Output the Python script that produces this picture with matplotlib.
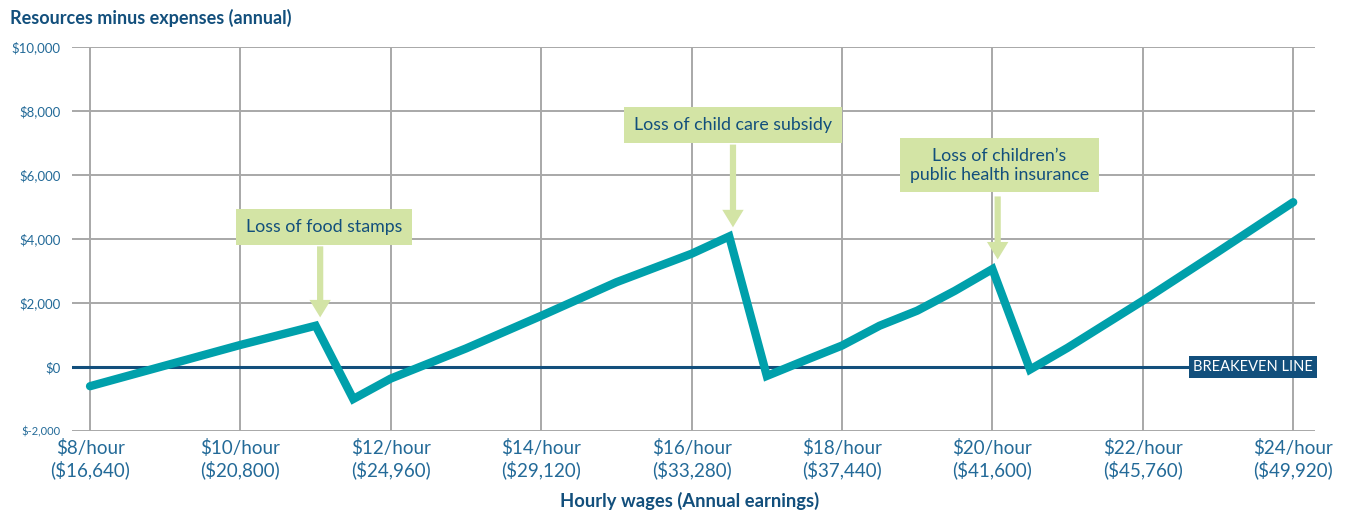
import matplotlib
matplotlib.use("Agg")
import matplotlib.pyplot as plt
import matplotlib.transforms as mtransforms

plt.rcParams['font.family'] = ['Lato', 'DejaVu Sans']

# ---- data ----
wage = [8, 9, 10, 11, 11.5, 12, 13, 14, 15, 16, 16.5, 17, 17.5, 18, 18.5, 19, 19.5, 20, 20.5, 21, 22, 23, 24]
net = [-600, 45, 690, 1290, -1000, -360, 580, 1600, 2650, 3540, 4080, -280, 200, 670, 1290,
       1760, 2380, 3060, -80, 600, 2070, 3600, 5150]

xticks = [8, 10, 12, 14, 16, 18, 20, 22, 24]
xticklabels = ["$8/hour\n($16,640)", "$10/hour\n($20,800)", "$12/hour\n($24,960)",
               "$14/hour\n($29,120)", "$16/hour\n($33,280)", "$18/hour\n($37,440)",
               "$20/hour\n($41,600)", "$22/hour\n($45,760)", "$24/hour\n($49,920)"]
yticks = [-2000, 0, 2000, 4000, 6000, 8000, 10000]
yticklabels = ["$-2,000", "$0", "$2,000", "$4,000", "$6,000", "$8,000", "$10,000"]

annotations = [
    # text, box center (x, y), arrow start y, arrow tip (x, y)
    ("Loss of food stamps", (11.11, 4380), 3770, (11.06, 1550)),
    ("Loss of child care subsidy", (16.55, 7570), 6950, (16.55, 4365)),
    ("Loss of children\u2019s\npublic health insurance", (20.09, 6300), 5330, (20.07, 3360)),
]

# ---- styles ----
TEAL = "#00a0ab"
NAVY = "#124f7c"
TICKC = "#236a98"
GRID = "#a8a8a8"
BOXC = "#d3e4a5"

fig = plt.figure(figsize=(13.51, 5.12), dpi=100)
ax = fig.add_axes([72 / 1351, 1 - 431 / 512, (1315 - 72) / 1351, (431 - 47) / 512])
ax.set_xlim(7.76, 24.29)
ax.set_ylim(-2000, 10000)

for s in ax.spines.values():
    s.set_visible(False)

# grid
for yv in yticks:
    ax.axhline(yv, color=GRID, lw=1.4, zorder=1)
for xv in xticks:
    ax.plot([xv, xv], [-2000, 10000], color=GRID, lw=1.4, zorder=1)

# breakeven line
ax.axhline(0, color=NAVY, lw=2.2, zorder=2)
trans = mtransforms.blended_transform_factory(ax.transAxes, ax.transData)
ax.text(0.9985, 0, "BREAKEVEN LINE", transform=trans, ha='right', va='center',
        color='white', fontsize=10.5, zorder=5,
        bbox=dict(boxstyle='square,pad=0.28', fc=NAVY, ec='none'))

# main line
ax.plot(wage, net, color=TEAL, lw=6, solid_joinstyle='miter', solid_capstyle='round', zorder=4)

# annotations
for text, (bx, by), ystart, (tx, ty) in annotations:
    ax.annotate("", xy=(tx, ty), xytext=(tx, ystart),
                arrowprops=dict(arrowstyle='simple,head_width=1.1,head_length=0.9,tail_width=0.32',
                                color=BOXC, lw=0, mutation_scale=14, shrinkA=0, shrinkB=0),
                zorder=3)
    ax.text(bx, by, text, ha='center', va='center', fontsize=12.8, color=NAVY,
            linespacing=1.2, zorder=5,
            bbox=dict(boxstyle='square,pad=0.55', fc=BOXC, ec='none'))

# ticks
ax.set_xticks(xticks)
ax.set_xticklabels(xticklabels, fontsize=13.5, color=TICKC, linespacing=1.2)
ax.set_yticks(yticks)
ax.set_yticklabels(yticklabels, fontsize=9.5, color=TICKC)
ax.get_yticklabels()[0].set_fontsize(8)
ax.tick_params(axis='both', length=0)
ax.tick_params(axis='x', pad=6)
ax.tick_params(axis='y', pad=8)

fig.text(10 / 1351, 1 - 18 / 512, "Resources minus expenses (annual)", fontsize=13,
         fontweight='bold', color=NAVY, ha='left', va='center')
fig.text(690 / 1351, 1 - 501 / 512, "Hourly wages (Annual earnings)", fontsize=13.2,
         fontweight='bold', color=NAVY, ha='center', va='center')

fig.savefig("out.png", dpi=100)
